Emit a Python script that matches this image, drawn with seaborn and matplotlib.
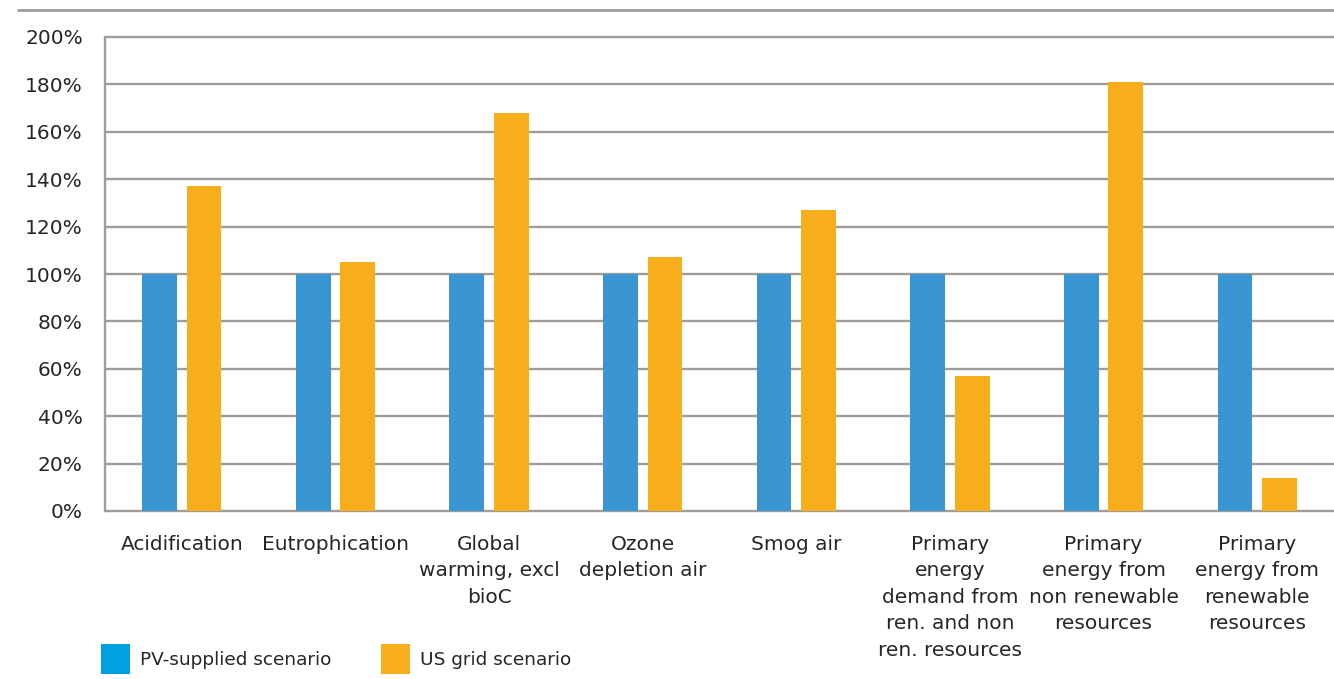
import matplotlib
matplotlib.use("Agg")
import matplotlib.pyplot as plt
import matplotlib.patches as mpatches
from matplotlib.lines import Line2D
import seaborn as sns
import pandas as pd

categories = [
    "Acidification",
    "Eutrophication",
    "Global\nwarming, excl\nbioC",
    "Ozone\ndepletion air",
    "Smog air",
    "Primary\nenergy\ndemand from\nren. and non\nren. resources",
    "Primary\nenergy from\nnon renewable\nresources",
    "Primary\nenergy from\nrenewable\nresources",
]
series_names = ["PV-supplied scenario", "US grid scenario"]
pv_values = [100, 100, 100, 100, 100, 100, 100, 100]
grid_values = [137, 105, 168, 107, 127, 57, 181, 14]
y_ticks = [0, 20, 40, 60, 80, 100, 120, 140, 160, 180, 200]
y_tick_labels = [f"{v}%" for v in y_ticks]

bar_colors = ["#3a96d3", "#f8ae1b"]
legend_colors = ["#00a0e3", "#f9ae1c"]
grid_color = "#a29c99"
text_color = "#262626"

df = pd.DataFrame({
    "category": categories * 2,
    "scenario": [series_names[0]] * len(categories) + [series_names[1]] * len(categories),
    "value": pv_values + grid_values,
})

sns.set_theme(style="white")
plt.rcParams["font.family"] = ["DejaVu Sans"]

fig = plt.figure(figsize=(13.34, 6.79), dpi=100)
ax = fig.add_axes([105 / 1334, 1 - 511 / 679, 1 - 105 / 1334, (511 - 37) / 679])

sns.barplot(data=df, x="category", y="value", hue="scenario", order=categories,
            hue_order=series_names, palette=bar_colors, width=0.58, gap=0.22,
            linewidth=0, saturation=1, ax=ax, legend=False)

ax.set_ylim(0, 200)
ax.set_xlim(-0.5, len(categories) - 0.5)
ax.set_yticks(y_ticks)
ax.set_yticklabels(y_tick_labels)
ax.set_xlabel("")
ax.set_ylabel("")
ax.yaxis.grid(True, color=grid_color, linewidth=1.7)
for gl in ax.get_ygridlines():
    gl.set_clip_on(False)
ax.set_axisbelow(True)
for s in ["top", "right", "bottom"]:
    ax.spines[s].set_visible(False)
ax.spines["left"].set_color(grid_color)
ax.spines["left"].set_linewidth(1.7)
ax.tick_params(axis="y", length=0, pad=16, labelsize=14.5, labelcolor=text_color)
ax.tick_params(axis="x", length=0, pad=17, labelsize=14.5, labelcolor=text_color)
for lbl in ax.get_xticklabels():
    lbl.set_multialignment("center")
    lbl.set_linespacing(1.5)

# decorative top rule
fig.add_artist(Line2D([18 / 1334, 1.0], [1 - 10 / 679, 1 - 10 / 679],
                      color=grid_color, linewidth=2))

handles = [mpatches.Patch(facecolor=c, edgecolor="none") for c in legend_colors]
leg = fig.legend(handles, series_names, loc="center left",
                 bbox_to_anchor=(101 / 1334, 1 - 659 / 679), ncol=2,
                 frameon=False, borderpad=0, borderaxespad=0,
                 handlelength=1.55, handleheight=2.15, handletextpad=0.55,
                 columnspacing=2.7, fontsize=13.3)
for t in leg.get_texts():
    t.set_color(text_color)

fig.savefig("out.png", dpi=100)
